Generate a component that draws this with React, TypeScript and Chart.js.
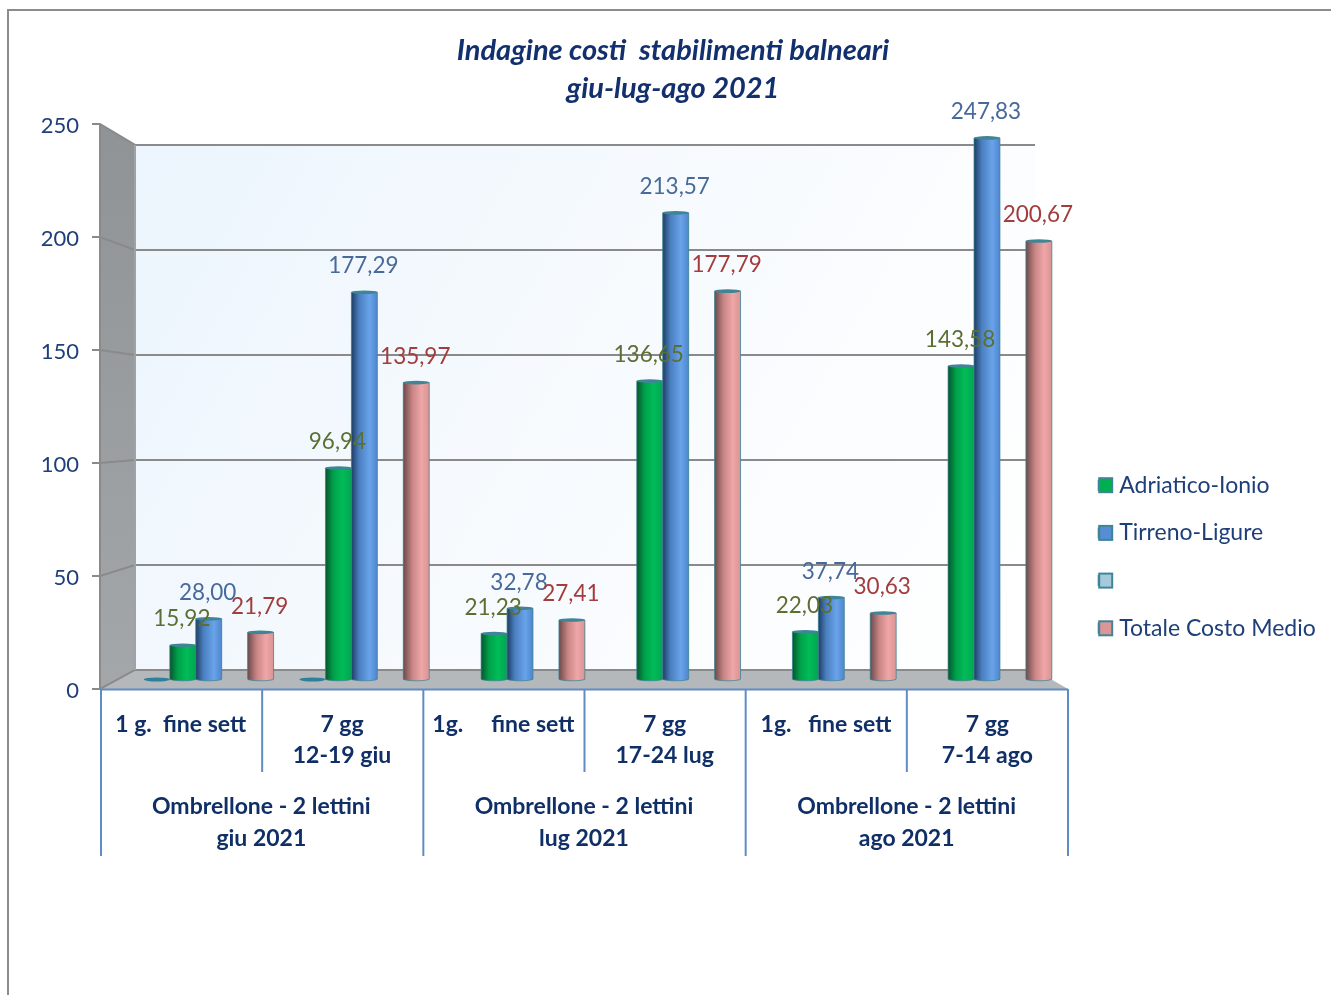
import React, { useEffect, useRef } from "react";
import { Chart, registerables } from "chart.js";

Chart.register(...registerables);

const categories: (string | string[])[] = [
  "1 g.  fine sett",
  ["7 gg", "12-19 giu"],
  "1g.     fine sett",
  ["7 gg", "17-24 lug"],
  "1g.   fine sett",
  ["7 gg", "7-14 ago"],
];
const groups: string[][] = [
  ["Ombrellone - 2 lettini", "giu 2021"],
  ["Ombrellone - 2 lettini", "lug 2021"],
  ["Ombrellone - 2 lettini", "ago 2021"],
];
const positions = [0, 1, 2, 3, 4, 5];
const hiddenSeries = [0, 0, null, null, null, null];
const adriatico = [15.92, 96.94, 21.23, 136.65, 22.03, 143.58];
const tirreno = [28.0, 177.29, 32.78, 213.57, 37.74, 247.83];
const blankSeries = [null, null, null, null, null, null];
const totale = [21.79, 135.97, 27.41, 177.79, 30.63, 200.67];
const yTicks = [0, 50, 100, 150, 200, 250];

const FONT = "Lato, Carlito, sans-serif";
const NAVY = "#0f2f66";
const TEXT = "#1f3f78";
const TEAL = "#3f8596";
const LABEL_SHIFT = 2;
const LEGEND_LEFT = 1074;
const LEGEND_PAD = 24.7;

const shades: Record<number, { stops: [number, string][]; label: string }> = {
  1: { stops: [[0, "#07552c"], [0.3, "#00a04a"], [0.65, "#00bc58"], [1, "#00a650"]], label: "#5c6f32" },
  2: { stops: [[0, "#1f3d63"], [0.3, "#4a7fc0"], [0.7, "#69a3ea"], [1, "#4f86cc"]], label: "#47699b" },
  4: { stops: [[0, "#6b4a4a"], [0.35, "#c98585"], [0.7, "#efa6a6"], [1, "#d99494"]], label: "#a33c3c" },
};

const fmt = (v: number) => v.toFixed(2).replace(".", ",");
const points = (values: (number | null)[]) => values.map((y, i) => ({ x: positions[i], y }));

const scene = {
  id: "scene",
  afterUpdate(chart: any) {
    const lg = chart.legend;
    if (lg) {
      lg.left = LEGEND_LEFT;
      lg.right = 1331;
      lg.top = 449;
      lg.bottom = 700;
      lg.adjustHitBoxes();
    }
    const t = chart.titleBlock;
    if (t) {
      t.left = 0;
      t.right = 1346;
    }
  },
  beforeDraw(chart: any) {
    const { ctx, width, height } = chart;
    ctx.save();
    ctx.strokeStyle = "#8c8c8c";
    ctx.lineWidth = 2;
    ctx.beginPath();
    ctx.moveTo(8, height);
    ctx.lineTo(8, 10);
    ctx.lineTo(width, 10);
    ctx.stroke();
    ctx.restore();
  },
  beforeDatasetsDraw(chart: any) {
    const { ctx, scales } = chart;
    const front = scales.y;
    const back = scales.yg;
    const fl = chart.chartArea.left;
    const fr = chart.chartArea.right;
    const bl = fl + 35;
    const br = fl + 935;
    const fy = (v: number) => front.getPixelForValue(v) - LABEL_SHIFT;
    const f0 = fy(0);
    const f250 = fy(250);
    const b0 = back.getPixelForValue(0);
    const b250 = back.getPixelForValue(250);
    ctx.save();
    const wall = ctx.createLinearGradient(bl, b250, br, b0);
    wall.addColorStop(0, "#ecf5fd");
    wall.addColorStop(0.55, "#f8fbfe");
    wall.addColorStop(1, "#ffffff");
    ctx.fillStyle = wall;
    ctx.fillRect(bl, b250, br - bl, b0 - b250);
    const side = ctx.createLinearGradient(0, f250, 0, f0);
    side.addColorStop(0, "#909396");
    side.addColorStop(1, "#a4a7a9");
    ctx.fillStyle = side;
    ctx.beginPath();
    ctx.moveTo(fl, f250);
    ctx.lineTo(bl, b250);
    ctx.lineTo(bl, b0);
    ctx.lineTo(fl, f0);
    ctx.closePath();
    ctx.fill();
    ctx.fillStyle = "#b5b8ba";
    ctx.beginPath();
    ctx.moveTo(bl, b0);
    ctx.lineTo(br, b0);
    ctx.lineTo(fr, f0);
    ctx.lineTo(fl, f0);
    ctx.closePath();
    ctx.fill();
    ctx.strokeStyle = "#8a8a8a";
    ctx.lineWidth = 2;
    yTicks.forEach((v) => {
      const yb = back.getPixelForValue(v);
      const yf = fy(v);
      ctx.beginPath();
      ctx.moveTo(fl - 8, yf);
      ctx.lineTo(fl, yf);
      ctx.lineTo(bl, yb);
      ctx.lineTo(br, yb);
      ctx.stroke();
    });
    ctx.beginPath();
    ctx.moveTo(fl, f250);
    ctx.lineTo(fl, f0);
    ctx.stroke();
    ctx.beginPath();
    ctx.moveTo(bl, b250);
    ctx.lineTo(bl, b0);
    ctx.strokeStyle = "#a0a3a5";
    ctx.stroke();
    // category separators
    const sl = fl + 1;
    const cw = (fr - sl) / categories.length;
    ctx.strokeStyle = "#5f8cc6";
    ctx.lineWidth = 2;
    ctx.beginPath();
    ctx.moveTo(sl, f0 + 0.5);
    ctx.lineTo(fr, f0 + 0.5);
    ctx.stroke();
    const mid = scales.x.bottom;
    const end = scales.x2.bottom;
    categories.forEach((_, i) => {
      const x = sl + i * cw;
      ctx.beginPath();
      ctx.moveTo(x, f0);
      ctx.lineTo(x, i % 2 === 0 ? end : mid);
      ctx.stroke();
    });
    ctx.beginPath();
    ctx.moveTo(fr, f0);
    ctx.lineTo(fr, end);
    ctx.stroke();
    ctx.restore();
  },
  afterDatasetsDraw(chart: any) {
    const { ctx } = chart;
    ctx.save();
    // flat discs of the zero-valued series
    chart.getDatasetMeta(0).data.forEach((el: any, i: number) => {
      if (hiddenSeries[i] === null) return;
      ctx.fillStyle = "#2d7f9c";
      ctx.beginPath();
      ctx.ellipse(el.x, el.base - 0.5, el.width / 2, 2, 0, 0, Math.PI * 2);
      ctx.fill();
    });
    [1, 2, 4].forEach((ds) => {
      const meta = chart.getDatasetMeta(ds);
      meta.data.forEach((el: any) => {
        const left = el.x - el.width / 2;
        const right = el.x + el.width / 2;
        const bottom = el.base - 1;
        const g = ctx.createLinearGradient(left, 0, right, 0);
        shades[ds].stops.forEach(([o, c]) => g.addColorStop(o, c));
        // cover the plain bar the library drew beneath
        ctx.fillStyle = g;
        ctx.beginPath();
        ctx.moveTo(left, el.y);
        ctx.lineTo(right, el.y);
        ctx.lineTo(right, bottom);
        ctx.ellipse(el.x, bottom, el.width / 2, 1.8, 0, 0, Math.PI);
        ctx.lineTo(left, el.y);
        ctx.closePath();
        ctx.fill();
        ctx.strokeStyle = "rgba(63,133,150,0.75)";
        ctx.lineWidth = 1;
        ctx.stroke();
        ctx.fillStyle = TEAL;
        ctx.beginPath();
        ctx.ellipse(el.x, el.y, el.width / 2, 1.8, 0, 0, Math.PI * 2);
        ctx.fill();
      });
    });
    ctx.font = `22.5px ${FONT}`;
    ctx.textAlign = "center";
    ctx.textBaseline = "middle";
    [1, 2, 4].forEach((ds) => {
      const meta = chart.getDatasetMeta(ds);
      ctx.fillStyle = shades[ds].label;
      meta.data.forEach((el: any, i: number) => {
        const v = (chart.data.datasets[ds].data[i] as any).y;
        ctx.fillText(fmt(v), el.x - 1, el.y - 26);
      });
    });
    ctx.restore();
  },
  afterDraw(chart: any) {
    // legend keys, larger than the gap the legend leaves before its text
    const lg = chart.legend;
    if (!lg) return;
    const { ctx } = chart;
    const x = LEGEND_LEFT + LEGEND_PAD + 0.5;
    ctx.save();
    lg.legendItems.forEach((item: any, i: number) => {
      const hb = lg.legendHitBoxes[i];
      const cy = hb.top + hb.height / 2;
      ctx.fillStyle = item.fillStyle;
      ctx.strokeStyle = TEAL;
      ctx.lineWidth = 2;
      ctx.fillRect(x, cy - 7, 13, 14);
      ctx.strokeRect(x, cy - 7, 13, 14);
    });
    ctx.restore();
  },
};

export default function App() {
  const ref = useRef<HTMLCanvasElement>(null);
  useEffect(() => {
    const bar = { xAxisID: "xb", yAxisID: "yb", categoryPercentage: 5 / 6, barPercentage: 1, borderColor: TEAL, borderWidth: 2 };
    const chart = new Chart(ref.current as HTMLCanvasElement, {
      type: "bar",
      data: {
        datasets: [
          { ...bar, label: "", data: points(hiddenSeries), backgroundColor: "#2d7f9c" },
          { ...bar, label: "Adriatico-Ionio", data: points(adriatico), backgroundColor: "#00b050" },
          { ...bar, label: "Tirreno-Ligure", data: points(tirreno), backgroundColor: "#558ed5" },
          { ...bar, label: "", data: points(blankSeries), backgroundColor: "#a5cbdb" },
          { ...bar, label: "Totale Costo Medio", data: points(totale), backgroundColor: "#dc9696" },
        ] as any,
      },
      plugins: [scene],
      options: {
        responsive: false,
        animation: false,
        devicePixelRatio: 1,
        layout: { autoPadding: false, padding: { left: 0, right: 263, top: 0, bottom: 139 } },
        plugins: {
          tooltip: { enabled: false },
          title: {
            display: true,
            text: ["Indagine costi  stabilimenti balneari", "giu-lug-ago 2021"],
            color: "#12306e",
            font: { family: FONT, size: 29, weight: "bold", style: "italic", lineHeight: 1.31 },
            padding: { top: 32, bottom: 16 },
          },
          legend: {
            position: "chartArea",
            align: "start",
            labels: {
              boxWidth: 9,
              boxHeight: 9,
              padding: LEGEND_PAD,
              color: TEXT,
              font: { family: FONT, size: 23 },
              filter: (item: any) => item.datasetIndex !== 0,
            },
          },
        } as any,
        scales: {
          xb: {
            type: "linear",
            axis: "x",
            display: false,
            offset: false,
            min: -0.6985,
            max: 5.5205,
            afterBuildTicks: (s: any) => {
              s.ticks = positions.map((value) => ({ value }));
            },
          },
          yb: { type: "linear", axis: "y", display: false, min: -4.115, max: 254.2 },
          yg: { type: "linear", axis: "y", display: false, min: -9.05, max: 260 },
          y: {
            type: "linear",
            axis: "y",
            position: "left",
            min: 0.885,
            max: 250.885,
            afterFit: (s: any) => {
              s.width = 100;
            },
            border: { display: false },
            grid: { display: false, drawTicks: false },
            afterBuildTicks: (s: any) => {
              s.ticks = yTicks.map((value) => ({ value }));
            },
            ticks: { padding: 21, color: TEXT, font: { family: FONT, size: 22 } },
          },
          x: {
            type: "category",
            axis: "x",
            position: "bottom",
            labels: categories,
            offset: true,
            afterFit: (s: any) => {
              s.height = 83;
            },
            border: { display: false },
            grid: { display: false, drawTicks: false },
            ticks: { maxRotation: 0, autoSkip: false, padding: 20.5, color: NAVY, font: { family: FONT, size: 23, weight: "bold", lineHeight: 1.35 } },
          },
          x2: {
            type: "category",
            axis: "x",
            position: "bottom",
            labels: groups,
            offset: true,
            afterFit: (s: any) => {
              s.height = 84;
            },
            border: { display: false },
            grid: { display: false, drawTicks: false },
            ticks: { maxRotation: 0, autoSkip: false, padding: 19, color: NAVY, font: { family: FONT, size: 23, weight: "bold", lineHeight: 1.39 } },
          },
        } as any,
      },
    });
    return () => chart.destroy();
  }, []);
  return (
    <div style={{ position: "fixed", left: 0, top: 0, width: 1331, height: 995, background: "#fff" }}>
      <canvas ref={ref} width={1331} height={995} style={{ display: "block" }} />
    </div>
  );
}
